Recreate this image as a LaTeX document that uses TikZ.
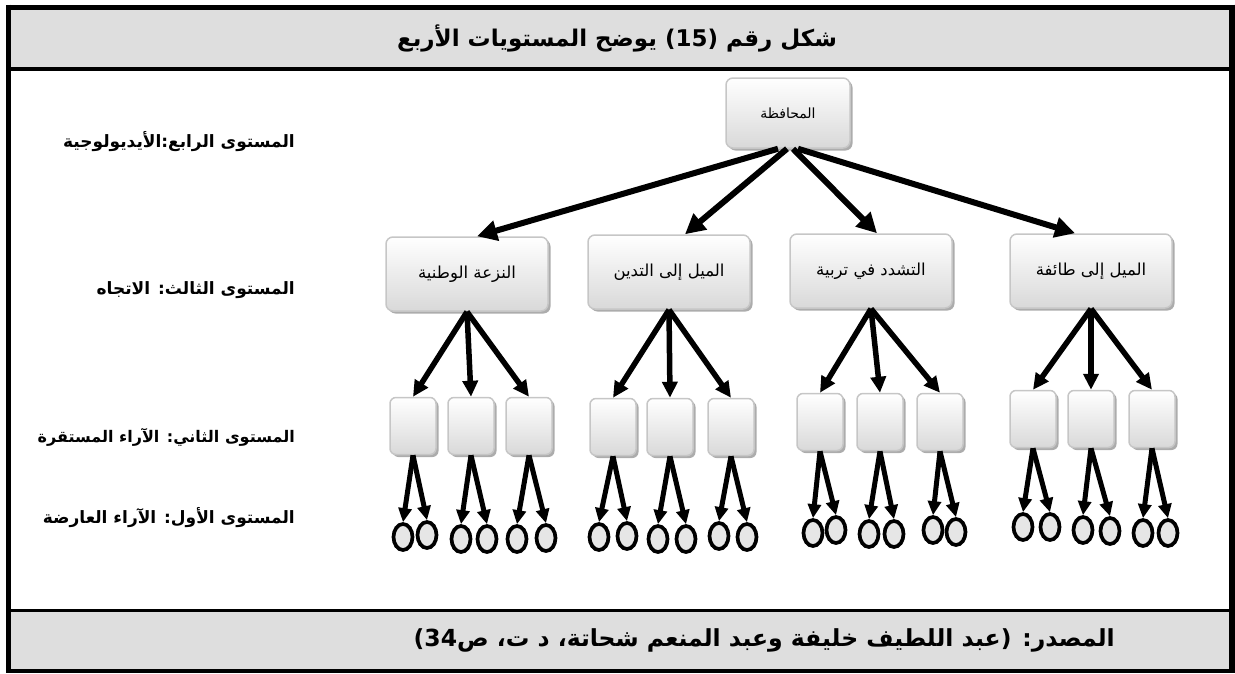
\documentclass[tikz,border=0pt]{standalone}
\usepackage{fontspec}
\usetikzlibrary{arrows.meta,shadows,calc,shapes.geometric}
\newfontfamily\arabicfont[Script=Arabic]{DejaVu Sans}
\TeXXeTstate=1
\definecolor{band}{HTML}{DEDEDE}
\definecolor{ellfill}{HTML}{E6E6E6}
\begin{document}
\begin{tikzpicture}[x=1pt,y=-1pt,
  bx/.style={draw=gray!45, line width=1.5pt, rounded corners=7pt, top color=white, bottom color=gray!30,
    drop shadow={shadow xshift=2.5pt, shadow yshift=-2.5pt, fill=gray!65, opacity=1}, inner sep=2pt,
    font=\arabicfont\fontsize{16.5}{19}\selectfont},
  bigbox/.style={bx, minimum width=162pt, minimum height=74pt},
  rootbox/.style={bx, minimum width=124pt, minimum height=70pt, font=\arabicfont\fontsize{14}{17}\selectfont},
  smallbox/.style={bx, minimum width=46pt, minimum height=57pt, rounded corners=6pt},
  ell/.style={draw=black, line width=3.7pt, fill=ellfill, ellipse, minimum width=19pt, minimum height=26pt, inner sep=0pt},
  arrA/.style={line width=6pt, -{Triangle[length=20pt,width=20pt]}},
  arrB/.style={line width=5.5pt, -{Triangle[length=16pt,width=15pt]}},
  arrC/.style={line width=5pt, -{Triangle[length=14pt,width=13pt]}},
  lbl/.style={anchor=east, font=\arabicfont\bfseries\fontsize{17}{20}\selectfont, inner sep=0pt}
]
\useasboundingbox (0,0) rectangle (1235,673);
% bands
\fill[band] (8,7) rectangle (1232,69);
\fill[band] (8,610.5) rectangle (1232,671);
\draw[line width=4pt] (8,69) -- (1232,69);
\draw[line width=3pt] (8,610.5) -- (1232,610.5);
\draw[line width=5pt] (8,7) -- (1232,7);
\draw[line width=5pt] (8,4.5) -- (8,673);
\draw[line width=6pt] (1232,4.5) -- (1232,673);
\draw[line width=4pt] (8,671) -- (1232,671);

\node[font=\arabicfont\bfseries\fontsize{23}{26}\selectfont] (title) at (617,38)
  {\beginR شكل رقم (\beginL 15\endL) يوضح المستويات الأربع\endR};
\node[font=\arabicfont\bfseries\fontsize{23.5}{26}\selectfont, anchor=east, inner sep=0pt] (src) at (1115,640)
  {\beginR المصدر: (عبد اللطيف خليفة وعبد المنعم شحاتة، د ت، ص\beginL 34\endL)\endR};

% level labels
\node[lbl] (l4) at (295,142) {\beginR المستوى الرابع:الأيديولوجية\endR};
\node[lbl] (l3) at (295,290) {\beginR المستوى الثالث: الاتجاه\endR};
\node[lbl, font=\arabicfont\bfseries\fontsize{16}{19}\selectfont] (l2) at (295,437) {\beginR المستوى الثاني: الآراء المستقرة\endR};
\node[lbl] (l1) at (295,518) {\beginR المستوى الأول: الآراء العارضة\endR};

% root and level 3
\node[rootbox] (root) at (788,113) {\beginR المحافظة\endR};
\node[bigbox] (na) at (467,274) {\beginR النزعة الوطنية\endR};
\node[bigbox] (nb) at (669,272) {\beginR الميل إلى التدين\endR};
\node[bigbox] (nc) at (871,271) {\beginR التشدد في تربية\endR};
\node[bigbox] (nd) at (1091,271) {\beginR الميل إلى طائفة\endR};

\draw[arrA] ([xshift=-10pt]root.south) -- ([xshift=10pt]na.north);
\draw[arrA] ([xshift=-1pt]root.south) -- ([xshift=16pt]nb.north);
\draw[arrA] ([xshift=5pt]root.south) -- ([xshift=6pt]nc.north);
\draw[arrA] ([xshift=10pt]root.south) -- ([xshift=-16pt]nd.north);

% level 2 boxes
\foreach \g/\y/\xa/\xb/\xc in {a/426/413/471/529, b/427/613/670/731, c/422/820/880/940, d/419/1033/1091/1152}{
  \node[smallbox] (s\g1) at (\xa,\y) {};
  \node[smallbox] (s\g2) at (\xb,\y) {};
  \node[smallbox] (s\g3) at (\xc,\y) {};
  \draw[arrB] (n\g.south) -- (s\g1.north);
  \draw[arrB] (n\g.south) -- (s\g2.north);
  \draw[arrB] (n\g.south) -- (s\g3.north);
}

% ellipses
\foreach \n/\x/\y in {a1L/403/537, a1R/427/535, a2L/461/539, a2R/487/539, a3L/517/539, a3R/546/538,
  b1L/599/537, b1R/627/536, b2L/658/539, b2R/686/539, b3L/719/536, b3R/747/537,
  c1L/813/533, c1R/836/530, c2L/869/534, c2R/894/534, c3L/933/530, c3R/956/532,
  d1L/1023/527, d1R/1050/527, d2L/1083/530, d2R/1110/531, d3L/1143/533, d3R/1168/533}{
  \node[ell] (e\n) at (\x,\y) {};
}
\foreach \g in {a,b,c,d}{
  \foreach \i in {1,2,3}{
    \draw[arrC] (s\g\i.south) -- (e\g\i L.north);
    \draw[arrC] (s\g\i.south) -- (e\g\i R.north);
  }
}
\end{tikzpicture}
\end{document}
